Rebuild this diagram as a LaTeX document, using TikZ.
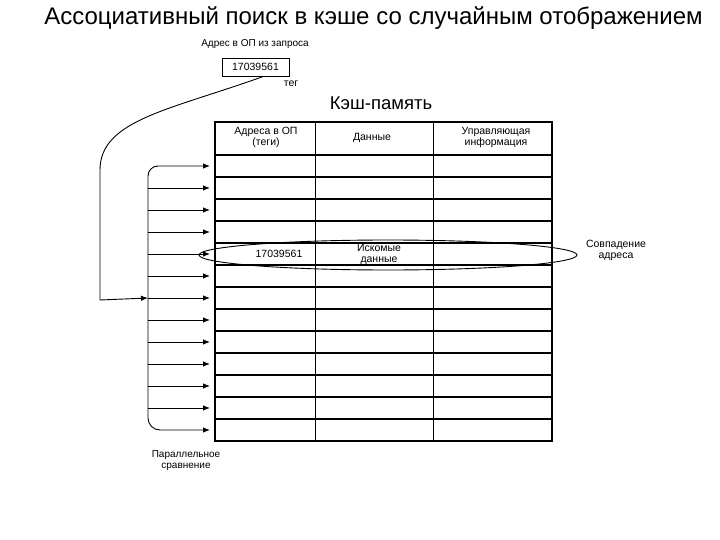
\documentclass[tikz,border=0pt]{standalone}
\usepackage{fontspec}
\setmainfont{Liberation Sans}
\usetikzlibrary{arrows.meta,shapes.geometric}
\tikzset{
  arr/.style={-{Latex[length=7pt,width=5.5pt]}, line width=0.9pt},
  rowline/.style={line width=1.6pt},
  colline/.style={line width=0.8pt},
  lbl/.style={font=\fontsize{10.5}{11}\selectfont, align=center, inner sep=0pt},
}
\begin{document}
\begin{tikzpicture}[x=1pt,y=-1pt]
\useasboundingbox (0,0) rectangle (720,540);
% title
\node[font=\fontsize{24}{28}\selectfont, inner sep=0pt] (title) at (373.5,18) {Ассоциативный поиск в кэше со случайным отображением};
% request address
\node[lbl, font=\fontsize{10}{11}\selectfont] (reqlbl) at (255,44) {Адрес в ОП из запроса};
\node[draw, line width=0.8pt, minimum width=67pt, minimum height=18pt, inner sep=0pt, font=\fontsize{10.5}{11}\selectfont] (tagbox) at (255.5,67) {17039561};
\node[lbl] (taglbl) at (291,84) {тег};
\node[font=\fontsize{18.5}{22}\selectfont, inner sep=0pt] (cache) at (381,103) {Кэш-память};
% table
\draw[line width=1.2pt] (215,122) rectangle (552,441);
\draw[colline] (315,122) -- (315,441);
\draw[colline] (433,122) -- (433,441);
\draw[rowline] (215,155) -- (552,155);
\foreach \i in {1,...,12}{
  \draw[rowline] (215,{155+22*\i}) -- (552,{155+22*\i});
}
\node[lbl] (h1) at (266,137) {Адреса в ОП\\(теги)};
\node[lbl] (h2) at (372,138) {Данные};
\node[lbl] (h3) at (496,137) {Управляющая\\информация};
\node[lbl] (tagrow) at (279,254) {17039561};
\node[lbl] (datarow) at (379,254) {Искомые\\данные};
\node[draw, ellipse, line width=0.9pt, minimum width=378pt, minimum height=30pt, inner sep=0pt] (match) at (388,255) {};
\node[lbl] (matchlbl) at (616,250) {Совпадение\\адреса};
\node[lbl, font=\fontsize{10}{11}\selectfont] (parlbl) at (186,461) {Параллельное\\сравнение};
% bus and arrows
\foreach \i in {1,...,13}{
  \coordinate (r\i) at (210,{144+22*\i});
  \coordinate (b\i) at (148,{144+22*\i});
}
\draw[arr, rounded corners=10pt] (148,300) |- (r1);
\draw[arr, rounded corners=12pt] (148,300) |- (r13);
\foreach \i in {2,...,12}{
  \draw[arr] (b\i) -- (r\i);
}
% from tag to bus
\coordinate (bend) at (100,300);
\draw[arr] (tagbox.south) ++(8,0) .. controls (170,110) and (100,120) .. (100,170) -- (bend) -- (b7);
\end{tikzpicture}
\end{document}
